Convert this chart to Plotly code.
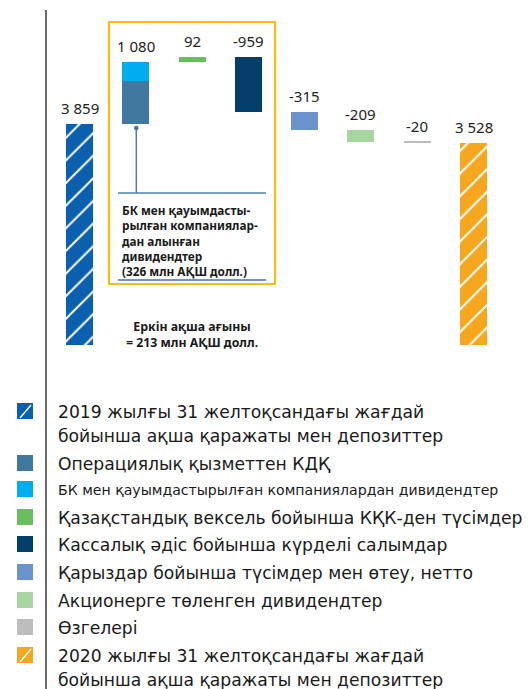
import plotly.graph_objects as go

# ---------------- data ----------------
categories = ["start", "cfo", "kkk", "capex", "loans", "div", "other", "end"]
start_value = 3859
end_value = 3528
step_names = [
    "Операциялық қызметтен КДҚ",
    "БК мен қауымдастырылған компаниялардан дивидендтер",
    "Қазақстандық вексель бойынша КҚК-ден түсімдер",
    "Кассалық әдіс бойынша күрделі салымдар",
    "Қарыздар бойынша түсімдер мен өтеу, нетто",
    "Акционерге төленген дивидендтер",
    "Өзгелері",
]
step_categories = ["cfo", "cfo", "kkk", "capex", "loans", "div", "other"]
step_values = [754, 326, 92, -959, -315, -209, -20]
step_colors = ["#3F79A0", "#00AEEF", "#6BBE5F", "#033F69", "#6A92CD", "#A8D5A1", "#BDBDBD"]
start_name = "2019 жылғы 31 желтоқсандағы жағдай<br>бойынша ақша қаражаты мен депозиттер"
end_name = "2020 жылғы 31 желтоқсандағы жағдай<br>бойынша ақша қаражаты мен депозиттер"
start_color = "#0B5FAF"
end_color = "#F7A71E"
label_texts = ["3 859", "1 080", "92", "-959", "-315", "-209", "-20", "3 528"]

box_lines = ["БК мен қауымдасты-", "рылған компаниялар-", "дан алынған", "дивидендтер", "(326 млн АҚШ долл.)"]
fcf_lines = ["Еркін ақша ағыны", "= 213 млн АҚШ долл."]

W, H = 528, 689
FONT = "DejaVu Sans"
FONT2 = "Noto Sans"


def px(x):
    return x / W


def py(y):
    return 1 - y / H


fig = go.Figure()

BW = 0.48
HATCH = dict(shape="/", fgcolor="white", size=16, solidity=0.12, fillmode="replace")
# start bar
fig.add_trace(go.Bar(x=[categories[0]], y=[start_value], base=[0], width=BW,
                     marker=dict(color=start_color, line=dict(width=0),
                                 pattern=dict(HATCH, bgcolor=start_color)),
                     showlegend=False))
running = start_value
tops = {categories[0]: start_value}
for name, cat, val, col in zip(step_names, step_categories, step_values, step_colors):
    fig.add_trace(go.Bar(x=[cat], y=[val], base=[running], width=BW,
                         marker=dict(color=col, line=dict(width=0)), showlegend=False))
    top = max(running, running + val)
    tops[cat] = max(tops.get(cat, top), top)
    running += val
fig.add_trace(go.Bar(x=[categories[-1]], y=[end_value], base=[0], width=BW,
                     marker=dict(color=end_color, line=dict(width=0),
                                 pattern=dict(HATCH, bgcolor=end_color)),
                     showlegend=False))
tops[categories[-1]] = end_value

annotations = []
for cat, txt in zip(categories, label_texts):
    annotations.append(dict(x=cat, y=tops[cat], xref="x", yref="y", text=txt, showarrow=False,
                            yanchor="middle", yshift=16, font=dict(size=15, color="#222", family=FONT2)))

shapes = []
# vertical axis line
shapes.append(dict(type="line", xref="paper", yref="paper", x0=px(46), x1=px(46), y0=py(10), y1=py(689),
                   line=dict(color="#3A3A3A", width=1.5)))
# orange box
shapes.append(dict(type="rect", xref="paper", yref="paper", x0=px(109), x1=px(275), y0=py(22), y1=py(284),
                   line=dict(color="#FDBA12", width=2.2)))
# stem, dot and lines
shapes.append(dict(type="line", xref="paper", yref="paper", x0=px(136.3), x1=px(136.3), y0=py(128), y1=py(193),
                   line=dict(color="#4A80A8", width=1.5)))
shapes.append(dict(type="circle", xref="paper", yref="paper", x0=px(134), x1=px(138.6), y0=py(125.7), y1=py(130.3),
                   line=dict(width=0), fillcolor="#3F79A0"))
shapes.append(dict(type="line", xref="paper", yref="paper", x0=px(118), x1=px(266), y0=py(193), y1=py(193),
                   line=dict(color="#4A80A8", width=1.5)))
shapes.append(dict(type="line", xref="paper", yref="paper", x0=px(118), x1=px(266), y0=py(280), y1=py(280),
                   line=dict(color="#6F99BC", width=2)))

annotations.append(dict(x=px(120), y=py(240.6), xref="paper", yref="paper",
                        text="<br>".join("<b>" + t + "</b>" for t in box_lines),
                        showarrow=False, xanchor="left", yanchor="middle", align="left",
                        font=dict(size=11.8, color="#1a1a1a", family=FONT2)))
annotations.append(dict(x=px(192), y=py(334), xref="paper", yref="paper",
                        text="<br>".join("<b>" + t + "</b>" for t in fcf_lines),
                        showarrow=False, xanchor="center", yanchor="middle", align="center",
                        font=dict(size=12.3, color="#1a1a1a", family=FONT2)))

# legend (manual)
legend_names = [start_name] + step_names + [end_name]
legend_colors = [start_color] + step_colors + [end_color]
legend_hatch = [True] + [False] * len(step_names) + [True]
marker_tops = [403, 455, 481, 509, 536, 564, 592, 619, 647]
for i, (nm, col, hatch, mt) in enumerate(zip(legend_names, legend_colors, legend_hatch, marker_tops)):
    shapes.append(dict(type="rect", xref="paper", yref="paper", x0=px(17), x1=px(33), y0=py(mt), y1=py(mt + 16),
                       line=dict(width=0), fillcolor=col))
    if hatch:
        shapes.append(dict(type="line", xref="paper", yref="paper", x0=px(20), x1=px(31), y0=py(mt + 15), y1=py(mt + 2),
                           line=dict(color="white", width=1.3)))
    lines = nm.split("<br>")
    small = nm.startswith("БК")
    for j, ln in enumerate(lines):
        annotations.append(dict(x=px(56), y=py(mt + 9 + 24 * j), xref="paper", yref="paper", text=ln,
                                showarrow=False, xanchor="left", yanchor="middle",
                                font=dict(size=14.1 if small else 17.2, color="#1a1a1a", family=FONT)))

ymin = -(H - 345) * 17.46
ymax = 345 * 17.46
xc0, dx = 79.5, 56.29
fig.update_layout(
    width=W, height=H, autosize=False,
    margin=dict(l=0, r=0, t=0, b=0),
    paper_bgcolor="white", plot_bgcolor="white",
    barmode="overlay", bargap=0,
    xaxis=dict(type="category", categoryorder="array", categoryarray=categories,
               range=[-xc0 / dx, (W - xc0) / dx], visible=False, fixedrange=True),
    yaxis=dict(range=[ymin, ymax], visible=False, fixedrange=True),
    shapes=shapes, annotations=annotations,
    font=dict(family=FONT),
    showlegend=False,
)
fig.write_html("out.html")
